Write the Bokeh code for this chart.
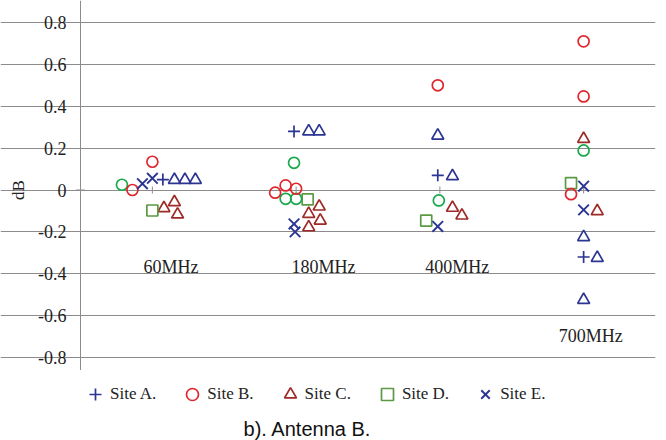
import numpy as np
from bokeh.plotting import figure
from bokeh.layouts import column
from bokeh.models import (Range1d, FixedTicker, Grid, Legend, LegendItem, Label, ColumnDataSource)
from bokeh.core.properties import value
from bokeh.embed import file_html
from bokeh.resources import INLINE

# ---- data -------------------------------------------------------------
bands = ["60MHz", "180MHz", "400MHz", "700MHz"]
y_ticks = [-0.8, -0.6, -0.4, -0.2, 0, 0.2, 0.4, 0.6, 0.8]
y_tick_labels = ["-0.8", "-0.6", "-0.4", "-0.2", "0", "0.2", "0.4", "0.6", "0.8"]
site_names = ["Site A.", "Site B.", "Site C.", "Site D.", "Site E."]

# per point: band index, deviation in dB, side-by-side slot inside the band
site_a_band = [0, 1, 2, 3]
site_a_db = [0.05, 0.28, 0.07, -0.32]
site_a_slot = [1, -0.2, -0.2, 0]

site_b_band = [0, 0, 1, 1, 1, 2, 3, 3, 3]
site_b_db = [0.0, 0.135, -0.013, 0.022, 0.006, 0.50, 0.71, 0.447, -0.02]
site_b_slot = [-1.9, 0, -2, -1, 0, -0.2, 0, 0, -1.2]

site_c_band = [0, 0, 0, 1, 1, 1, 1, 2, 2, 3, 3]
site_c_db = [-0.087, -0.058, -0.117, -0.079, -0.114, -0.146, -0.178, -0.085, -0.122, 0.244, -0.101]
site_c_slot = [1.1, 2.1, 2.4, 2.2, 1.2, 2.3, 1.2, 1.2, 2.1, 0, 1.3]

site_d_band = [0, 1, 2, 3]
site_d_db = [-0.098, -0.045, -0.146, 0.033]
site_d_slot = [0, 1.1, -1.3, -1.2]

site_e_band = [0, 0, 1, 1, 2, 3, 3]
site_e_db = [0.03, 0.056, -0.162, -0.20, -0.174, 0.018, -0.095]
site_e_slot = [-0.95, 0, -0.2, -0.1, -0.2, 0, 0]

extra_circle_band = [0, 1, 1, 1, 2, 3]
extra_circle_db = [0.025, 0.13, -0.042, -0.042, -0.05, 0.189]
extra_circle_slot = [-2.9, -0.2, -1, 0, -0.1, 0]

extra_tri_band = [0, 0, 0, 1, 1, 2, 2, 3, 3, 3]
extra_tri_db = [0.048, 0.048, 0.048, 0.28, 0.28, 0.26, 0.066, -0.225, -0.324, -0.525]
extra_tri_slot = [2.1, 3.1, 4.1, 1.2, 2.2, -0.2, 1.2, 0, 1.3, 0]

# ---- styling ----------------------------------------------------------
SLOT = 0.073          # width of one slot, in band units
SERIF = "Liberation Serif"
GRID = "#8c8c8c"
TEXT = "#222222"
BLUE = "#2b3592"
RED = "#e0262c"
DARK_RED = "#9e2a27"
GREEN = "#19a84b"
OLIVE = "#5b9a45"
MS = 11
LW = 1.7

STYLES = {
    "Site A.": dict(marker="cross", size=MS + 1, line_color=BLUE, line_width=LW),
    "Site B.": dict(marker="circle", size=MS, line_color=RED, fill_color=None, line_width=LW),
    "Site C.": dict(marker="triangle", size=MS + 1, line_color=DARK_RED, fill_color=None, line_width=LW),
    "Site D.": dict(marker="square", size=MS, line_color=OLIVE, fill_color=None, line_width=LW),
    "Site E.": dict(marker="x", size=MS + 4, line_color=BLUE, line_width=LW + 0.2),
}


def source(band, db, slot):
    x = np.asarray(band, dtype=float) + np.asarray(slot, dtype=float) * SLOT
    return ColumnDataSource(dict(x=x, y=db))


# ---- main scatter panel --------------------------------------------------
# The frame spans the whole canvas; the value scale (labels, axis line, grid)
# is drawn inside it, left of the first band, so every text uses the same fonts.
W, H = 666, 370
LEFT, RIGHT, TOP, BOTTOM = 80, 11, 22, 13          # pixel margins of the grid box
x0, x1 = -0.5, len(bands) - 0.5
y0, y1 = y_ticks[0], y_ticks[-1]
px_x = (x1 - x0) / (W - LEFT - RIGHT)
px_y = (y1 - y0) / (H - TOP - BOTTOM)

p = figure(width=W, height=H, output_backend="svg", toolbar_location=None,
           x_range=Range1d(x0 - LEFT * px_x, x1), y_range=Range1d(y0 - BOTTOM * px_y, y1 + TOP * px_y),
           x_axis_location=None, y_axis_location=None, min_border=0, min_border_right=RIGHT)
p.outline_line_color = None
p.grid.visible = False

# horizontal grid lines, limited to the band area
p.add_layout(Grid(dimension=1, ticker=FixedTicker(ticks=y_ticks), bounds=(x0, x1),
                  grid_line_color=GRID, grid_line_width=1))
# value axis line on the left edge of the band area
p.add_layout(Grid(dimension=0, ticker=FixedTicker(ticks=[x0]), bounds=(y0, y1),
                  grid_line_color=GRID, grid_line_width=1))

# value labels and axis title
p.text(x=[x0] * len(y_ticks), y=y_ticks, text=y_tick_labels, x_offset=-14,
       text_font=value(SERIF), text_font_size="18px", text_color=TEXT,
       text_align="right", text_baseline="middle")
p.text(x=[x0], y=[0], text=["dB"], angle=np.pi / 2, x_offset=-62,
       text_font=value(SERIF), text_font_size="17px", text_color=TEXT,
       text_align="center", text_baseline="middle")

# small ticks of the band axis on the zero line, and its stub at the value axis
band_idx = np.arange(len(bands))
p.scatter(x=band_idx, y=np.zeros(len(bands)), marker="dash", angle=np.pi / 2,
          size=7, line_color=GRID, line_width=1)
p.scatter(x=[x0], y=[0], marker="dash", size=9, line_color=GRID, line_width=1)

# band names, set beside each group
p.text(x=band_idx + np.array([0.13, 0.19, 0.12, 0.05]), y=[-0.37, -0.37, -0.37, -0.695],
       text=bands, text_font=value(SERIF), text_font_size="18px", text_color=TEXT,
       text_align="center", text_baseline="middle")

p.scatter("x", "y", source=source(site_a_band, site_a_db, site_a_slot), **STYLES["Site A."])
p.scatter("x", "y", source=source(extra_tri_band, extra_tri_db, extra_tri_slot), marker="triangle",
          size=MS + 1, line_color=BLUE, fill_color=None, line_width=LW)
p.scatter("x", "y", source=source(site_c_band, site_c_db, site_c_slot), **STYLES["Site C."])
p.scatter("x", "y", source=source(site_d_band, site_d_db, site_d_slot), **STYLES["Site D."])
p.scatter("x", "y", source=source(extra_circle_band, extra_circle_db, extra_circle_slot),
          marker="circle", size=MS, line_color=GREEN, fill_color=None, line_width=LW)
p.scatter("x", "y", source=source(site_b_band, site_b_db, site_b_slot), **STYLES["Site B."])
p.scatter("x", "y", source=source(site_e_band, site_e_db, site_e_slot), **STYLES["Site E."])

# ---- legend strip and caption ------------------------------------------
k = figure(width=W, height=440 - H, output_backend="svg", toolbar_location=None,
           x_range=Range1d(0, 1), y_range=Range1d(0, 1),
           x_axis_location=None, y_axis_location=None, min_border=0)
k.outline_line_color = None
k.grid.visible = False

items = []
for name in site_names:
    # legend swatches only: a single undefined point that never shows in the strip
    r = k.scatter(x=[np.nan], y=[np.nan], **STYLES[name])
    items.append(LegendItem(label=name, renderers=[r]))

legend = Legend(items=items, orientation="horizontal", location=(80, 31), margin=0, padding=0,
                glyph_width=30, glyph_height=30, label_standoff=0, spacing=21,
                label_text_font=SERIF, label_text_font_size="17px", label_text_color=TEXT,
                border_line_color=None, background_fill_alpha=0)
k.add_layout(legend)

k.add_layout(Label(x=307, y=12, x_units="screen", y_units="screen", text="b). Antenna B.",
                   text_font="Liberation Sans", text_font_size="20px", text_color="#111111",
                   text_align="center", text_baseline="middle"))

layout = column(p, k, spacing=0)
open("out.html", "w").write(file_html(layout, INLINE))
